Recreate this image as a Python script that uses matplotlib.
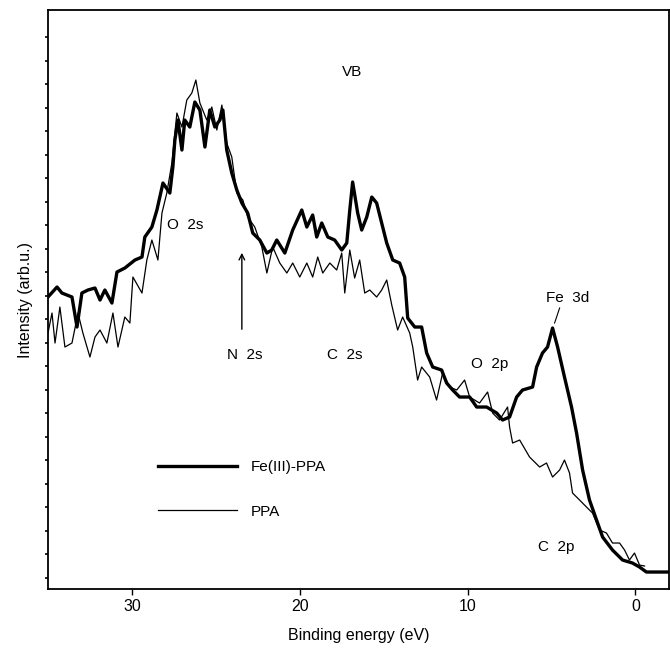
### Valence band XPS spectra: Fe(III)-PPA vs PPA
###

import numpy as np
import matplotlib
matplotlib.use("Agg")
import matplotlib.pyplot as plt

plt.rcParams['font.family'] = ['Liberation Sans', 'DejaVu Sans']

# Fe(III)-PPA (thick line)
fe_energy = [35.0, 34.46, 34.17, 33.57, 33.27, 32.98, 32.62, 32.2, 31.9, 31.61,
             31.19, 30.89, 30.42, 29.82, 29.4, 29.23, 28.81, 28.51, 28.15, 27.74,
             27.56, 27.44, 27.26, 27.02, 26.85, 26.55, 26.25, 25.95, 25.65, 25.36,
             25.06, 24.76, 24.58, 24.35, 24.05, 23.75, 23.45, 23.1, 22.8, 22.38,
             21.96, 21.67, 21.37, 20.89, 20.42, 19.88, 19.58, 19.23, 18.99, 18.69,
             18.33, 17.92, 17.5, 17.2, 17.02, 16.85, 16.55, 16.31, 16.01, 15.71,
             15.42, 15.12, 14.82, 14.46, 14.05, 13.75, 13.57, 13.15, 12.74, 12.44,
             12.08, 11.55, 11.25, 10.89, 10.48, 9.88, 9.46, 8.87, 8.27, 7.92,
             7.5, 7.08, 6.73, 6.13, 5.89, 5.54, 5.24, 4.94, 4.64, 4.23,
             3.81, 3.51, 3.15, 2.74, 2.32, 1.96, 1.37, 0.77, 0.18, -0.24,
             -0.65, -1.9]
fe_intensity = [292, 302, 296, 292, 262, 296, 299, 301, 289, 299,
                286, 317, 321, 329, 332, 352, 362, 379, 406, 396,
                422, 449, 469, 439, 469, 462, 487, 479, 442, 479,
                462, 469, 479, 439, 416, 399, 386, 376, 356, 349,
                336, 339, 349, 336, 359, 379, 362, 374, 352, 366,
                352, 349, 339, 346, 379, 407, 376, 359, 372, 392,
                386, 366, 346, 329, 326, 312, 271, 262, 262, 236,
                222, 219, 206, 199, 192, 192, 182, 182, 176, 169,
                172, 192, 199, 202, 222, 236, 242, 261, 242, 212,
                182, 156, 119, 89, 69, 52, 39, 29, 26, 22,
                17, 17]

# PPA (thin line)
ppa_energy = [35.0, 34.76, 34.58, 34.29, 33.99, 33.57, 33.21, 32.92, 32.5, 32.2,
              31.9, 31.49, 31.13, 30.83, 30.42, 30.12, 29.94, 29.4, 29.11, 28.81,
              28.45, 28.21, 27.92, 27.62, 27.32, 27.02, 26.73, 26.43, 26.19, 25.95,
              25.54, 25.24, 24.94, 24.64, 24.35, 24.05, 23.75, 23.39, 23.1, 22.68,
              22.26, 21.96, 21.61, 21.19, 20.77, 20.42, 20.0, 19.58, 19.23, 18.93,
              18.63, 18.21, 17.8, 17.5, 17.32, 17.02, 16.73, 16.43, 16.13, 15.83,
              15.42, 15.12, 14.82, 14.52, 14.17, 13.87, 13.45, 13.27, 12.98, 12.74,
              12.26, 11.85, 11.49, 11.07, 10.65, 10.18, 9.88, 9.29, 8.81, 8.51,
              8.1, 7.62, 7.5, 7.32, 6.9, 6.31, 5.71, 5.3, 4.94, 4.52,
              4.23, 3.93, 3.75, 3.33, 2.92, 2.56, 2.14, 1.73, 1.37, 0.95,
              0.65, 0.36, 0.06, -0.24, -0.54]
ppa_intensity = [256, 276, 246, 282, 242, 246, 276, 256, 232, 252,
                 259, 246, 276, 242, 272, 266, 312, 296, 329, 349,
                 329, 376, 396, 426, 476, 462, 489, 496, 509, 486,
                 469, 482, 459, 484, 446, 432, 396, 389, 372, 362,
                 342, 316, 342, 326, 316, 326, 312, 326, 312, 332,
                 316, 326, 319, 336, 296, 339, 311, 329, 296, 299,
                 292, 299, 309, 284, 259, 272, 256, 242, 209, 222,
                 212, 189, 216, 202, 199, 209, 192, 186, 197, 176,
                 169, 182, 162, 146, 149, 132, 122, 126, 112, 119,
                 129, 116, 96, 89, 82, 76, 59, 56, 46, 46,
                 39, 29, 36, 24, 23]

fig = plt.figure(figsize=(6.7, 6.51), dpi=100)
ax = fig.add_axes([0.0716, 0.0952, 0.927, 0.8894])

ax.plot(fe_energy, fe_intensity, color='black', lw=2.4, label='Fe(III)-PPA')
ax.plot(ppa_energy, ppa_intensity, color='black', lw=0.9, label='PPA')

ax.set_xlim(35, -2)
ax.set_ylim(0, 579)
ax.set_xticks([30, 20, 10, 0])
ax.set_yticks(np.arange(552, 0, -23.5))
ax.set_yticklabels([])
ax.tick_params(axis='x', direction='out', length=4, width=1, labelsize=11.5)
ax.tick_params(axis='y', direction='out', length=2.5, width=1.2)
for s in ax.spines.values():
    s.set_linewidth(1.3)

ax.set_xlabel("Binding energy (eV)", fontsize=11.5, labelpad=10)
ax.set_ylabel("Intensity (arb.u.)", fontsize=11.5, labelpad=5)

# peak labels
ax.text(16.9, 517, "VB", fontsize=11, ha='center', va='center')
ax.text(26.85, 364, "O  2s", fontsize=11, ha='center', va='center')
ax.text(23.27, 234, "N  2s", fontsize=11, ha='center', va='center')
ax.text(17.3, 234, "C  2s", fontsize=11, ha='center', va='center')
ax.text(8.7, 225, "O  2p", fontsize=11, ha='center', va='center')
ax.text(4.05, 291, "Fe  3d", fontsize=11, ha='center', va='center')
ax.text(4.7, 42, "C  2p", fontsize=11, ha='center', va='center')
ax.annotate("", xy=(23.45, 339), xytext=(23.45, 257),
            arrowprops=dict(arrowstyle='->', color='black', lw=1))
ax.plot([4.82, 4.52], [266, 281], color='black', lw=0.8)

ax.legend(loc='center left', bbox_to_anchor=(0.155, 0.172), frameon=False,
          fontsize=11, handlelength=5.2, labelspacing=2.0, handletextpad=0.9)

plt.savefig("out.png", dpi=100)
